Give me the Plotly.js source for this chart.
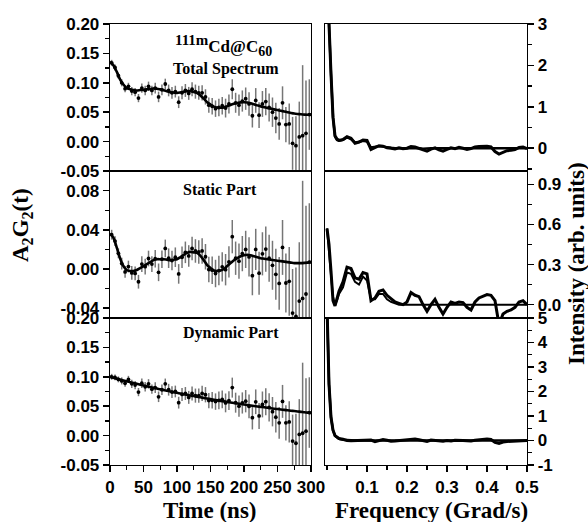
<!DOCTYPE html>
<html>
<head>
<meta charset="utf-8">
<script src="https://cdn.plot.ly/plotly-3.0.1.min.js"></script>
<style>html,body{margin:0;padding:0;background:#fff;}#chart{width:588px;height:522px;}</style>
</head>
<body>
<div id="chart"></div>
<script>
// ---------- time-domain data (ns) ----------
const timeData = [2.5,7.5,12.5,17.5,22.5,27.5,32.5,37.5,42.5,47.5,52.5,57.5,62.5,67.5,72.5,77.5,82.5,87.5,92.5,97.5,
  102.5,107.5,112.5,117.5,122.5,127.5,132.5,137.5,142.5,147.5,152.5,157.5,162.5,167.5,172.5,177.5,182.5,187.5,192.5,197.5,
  202.5,207.5,212.5,217.5,222.5,227.5,232.5,237.5,242.5,247.5,252.5,257.5,262.5,267.5,272.5,277.5,282.5,287.5,292.5,297.5];
const totalData = [0.134,0.126,0.112,0.100,0.090,0.094,0.086,0.084,0.074,0.091,0.087,0.094,0.087,0.091,0.076,0.088,0.098,0.087,0.083,0.085,
  0.067,0.083,0.087,0.082,0.089,0.085,0.083,0.083,0.076,0.062,0.060,0.056,0.058,0.061,0.057,0.064,0.089,0.066,0.062,0.069,
  0.073,0.064,0.044,0.070,0.045,0.064,0.068,0.058,0.050,0.040,0.030,0.066,0.029,0.030,-0.003,-0.007,0.008,0.010,0.014,0.046];
const staticData = [0.035,0.0285,0.016,0.0055,-0.003,0.0025,-0.004,-0.0045,-0.013,0.005,0.0024,0.0107,0.005,0.0105,-0.0034,0.010,0.021,0.011,0.0086,0.012,
  -0.005,0.012,0.017,0.0133,0.021,0.0184,0.0174,0.0184,0.0125,-0.0005,-0.0012,-0.0046,-0.0016,0.0022,-0.0007,0.0072,0.033,0.011,0.008,0.0157,
  0.020,0.0123,-0.0068,0.020,-0.0043,0.0155,0.0203,0.011,0.0038,-0.0054,-0.0147,0.022,-0.0143,-0.0126,-0.045,-0.0484,-0.0327,-0.030,-0.0255,0.0071];
const dynamicData = [0.100,0.099,0.0956,0.093,0.089,0.0956,0.088,0.086,0.074,0.089,0.083,0.088,0.079,0.0816,0.066,0.078,0.088,0.078,0.074,0.075,
  0.056,0.070,0.0716,0.065,0.0717,0.068,0.068,0.0717,0.0695,0.0595,0.060,0.0578,0.0598,0.0617,0.0556,0.0596,0.0816,0.056,0.050,0.0555,
  0.0585,0.0497,0.0305,0.0575,0.0334,0.053,0.0577,0.048,0.0407,0.0313,0.0218,0.0582,0.0218,0.0233,-0.0093,-0.013,0.002,0.004,0.0076,0.0392];
const errData = [0.005,0.005,0.005,0.006,0.006,0.006,0.007,0.007,0.007,0.008,0.008,0.008,0.008,0.009,0.009,0.009,0.009,0.010,0.010,0.010,
  0.010,0.011,0.011,0.011,0.012,0.012,0.012,0.013,0.013,0.013,0.014,0.014,0.015,0.015,0.016,0.016,0.017,0.017,0.018,0.018,
  0.019,0.020,0.020,0.021,0.022,0.022,0.023,0.024,0.025,0.026,0.027,0.028,0.030,0.035,0.045,0.050,0.060,0.120,0.090,0.060];

const timeFit = [0,5,10,15,20,25,30,35,40,45,50,55,60,65,70,75,80,85,90,95,100,105,110,115,120,125,130,135,140,145,150,
  155,160,165,170,175,180,185,190,195,200,205,210,215,220,225,230,235,240,245,250,255,260,265,270,275,280,285,290,295,300];
const totalFit = [0.136,0.130,0.119,0.106,0.097,0.091,0.089,0.0875,0.087,0.0877,0.0883,0.0889,0.0896,0.0903,0.090,0.0888,0.0875,0.0858,0.0841,0.0834,
  0.0827,0.0836,0.0849,0.0858,0.0857,0.0842,0.0826,0.0786,0.073,0.067,0.063,0.0595,0.0581,0.0576,0.0582,0.0603,0.0624,0.0645,0.0656,0.0667,
  0.0669,0.0666,0.0652,0.0634,0.0616,0.0599,0.0586,0.0573,0.0561,0.0548,0.0536,0.0524,0.0512,0.050,0.0488,0.0477,0.047,0.0464,0.0459,0.0456,0.0459];
const staticFit = [0.036,0.032,0.022,0.011,0.003,-0.001,-0.002,-0.002,-0.001,0.001,0.003,0.005,0.007,0.009,0.010,0.010,0.010,0.0095,0.009,0.0095,
  0.010,0.012,0.0145,0.0165,0.0175,0.017,0.0165,0.0135,0.009,0.004,0.001,-0.0015,-0.002,-0.0015,0.000,0.003,0.006,0.009,0.011,0.013,
  0.014,0.0145,0.014,0.013,0.012,0.011,0.0105,0.010,0.0095,0.009,0.0085,0.008,0.0075,0.007,0.0065,0.006,0.006,0.006,0.0062,0.0065,0.007];
const dynamicFit = [0.100,0.0984,0.0969,0.0953,0.0938,0.0923,0.0909,0.0895,0.0880,0.0867,0.0853,0.0839,0.0826,0.0813,0.0800,0.0788,0.0775,0.0763,0.0751,0.0739,
  0.0727,0.0716,0.0704,0.0693,0.0682,0.0672,0.0661,0.0651,0.0640,0.0630,0.0620,0.0610,0.0601,0.0591,0.0582,0.0573,0.0564,0.0555,0.0546,0.0537,
  0.0529,0.0521,0.0512,0.0504,0.0496,0.0489,0.0481,0.0473,0.0466,0.0458,0.0451,0.0444,0.0437,0.0430,0.0423,0.0417,0.0410,0.0404,0.0397,0.0391,0.0385];

// ---------- frequency-domain data (Grad/s) ----------
const freq = [0,0.005,0.01,0.015,0.02,0.025,0.03,0.04,0.05,0.06,0.07,0.08,0.09,0.10,
  0.11,0.12,0.13,0.14,0.15,0.16,0.17,0.18,0.19,0.20,0.21,0.22,0.23,0.24,0.25,0.26,0.27,0.28,0.29,0.30,
  0.31,0.32,0.33,0.34,0.35,0.36,0.37,0.38,0.39,0.40,0.41,0.42,0.43,0.44,0.45,0.46,0.47,0.48,0.49,0.50];
const totalSpec = [5.0,3.0,1.8,0.75,0.3,0.22,0.19,0.21,0.28,0.24,0.12,0.15,0.20,0.19,
  -0.03,0.02,0.06,0.05,0.01,0.0,-0.02,0.01,-0.01,0.0,0.04,0.03,0.0,-0.03,-0.07,-0.02,0.01,-0.04,-0.07,-0.03,
  0.01,-0.01,0.02,0.0,-0.03,-0.01,0.03,0.04,0.05,0.05,0.03,-0.08,-0.14,-0.09,-0.06,-0.05,-0.03,0.02,0.03,-0.01];
const totalSpecFit = [5.0,3.0,1.8,0.75,0.28,0.20,0.18,0.20,0.26,0.22,0.14,0.15,0.18,0.16,
  0.02,0.03,0.05,0.04,0.02,0.01,0.0,0.0,0.0,0.0,0.01,0.0,0.0,-0.01,0.0,0.0,0.0,0.0,0.0,0.0,
  0.0,0.0,0.0,0.0,0.0,0.0,0.0,0.0,0.0,0.0,0.0,0.0,0.0,0.0,0.0,0.0,0.0,0.0,0.0,0.0];
const staticSpec = [0.57,0.45,0.25,0.03,-0.01,0.05,0.10,0.17,0.28,0.27,0.20,0.19,0.24,0.23,
  0.03,0.05,0.10,0.11,0.07,0.045,0.02,0.01,0.0,0.02,0.09,0.07,0.06,0.0,-0.05,0.0,0.04,-0.02,-0.07,-0.02,
  0.02,0.01,0.02,0.015,-0.02,-0.04,0.02,0.05,0.06,0.075,0.07,0.03,-0.15,-0.07,-0.05,-0.04,-0.02,0.02,0.03,0.0];
const staticSpecFit = [0.57,0.42,0.22,0.06,0.0,0.03,0.08,0.13,0.24,0.23,0.17,0.15,0.21,0.18,
  0.04,0.04,0.08,0.08,0.04,0.02,0.01,0.0,0.0,0.0,0.005,0.0,0.0,0.0,0.0,0.0,0.0,0.0,0.0,0.0,
  0.0,0.0,0.0,0.0,0.0,0.0,0.0,0.0,0.0,0.0,0.0,0.0,0.0,0.0,0.0,0.0,0.0,0.0,0.0,0.0];
const dynamicSpec = [5.5,2.3,0.95,0.42,0.2,0.12,0.08,0.05,0.0,-0.01,0.0,0.01,-0.01,0.01,
  0.02,-0.05,0.0,0.04,0.01,-0.03,-0.02,0.0,0.01,0.03,0.05,0.06,0.03,0.0,-0.04,0.02,0.0,-0.04,-0.03,0.0,
  -0.02,0.01,0.02,0.0,-0.01,-0.02,0.01,0.03,0.05,0.06,0.04,-0.08,-0.12,-0.06,-0.04,-0.03,-0.02,0.0,0.02,0.0];
const dynamicSpecFit = [5.5,2.3,0.95,0.42,0.19,0.11,0.07,0.03,0.01,0.0,0.0,0.0,0.0,0.0,
  0.0,0.0,0.0,0.0,0.0,0.0,0.0,0.0,0.0,0.0,0.0,0.0,0.0,0.0,0.0,0.0,0.0,0.0,0.0,0.0,
  0.0,0.0,0.0,0.0,0.0,0.0,0.0,0.0,0.0,0.0,0.0,0.0,0.0,0.0,0.0,0.0,0.0,0.0,0.0,0.0];

// ---------- tick labels ----------
const timeTicks = [0,50,100,150,200,250,300];
const timeTickText = ['0','50','100','150','200','250','300'];
const freqTicks = [0.1,0.2,0.3,0.4,0.5];
const freqTickText = ['0.1','0.2','0.3','0.4','0.5'];
const ampTicks = [0.20,0.15,0.10,0.05,0.00,-0.05];
const ampTickText = ['0.20','0.15','0.10','0.05','0.00','-0.05'];
const staticTicks = [0.08,0.04,0.00,-0.04];
const staticTickText = ['0.08','0.04','0.00','-0.04'];
const specTopTicks = [3,2,1,0];
const specTopText = ['3','2','1','0'];
const specMidTicks = [0.9,0.6,0.3,0.0];
const specMidText = ['0.9','0.6','0.3','0.0'];
const specBotTicks = [5,4,3,2,1,0,-1];
const specBotText = ['5','4','3','2','1','0','-1'];

// ---------- layout helpers ----------
const W = 588, H = 522;
const xL = [110/W, 311/W], xR = [325/W, 527/W];
const yTop = [1-171/H, 1-24/H], yMid = [1-318/H, 1-171/H], yBot = [1-465/H, 1-318/H];
const tickFont = {family:'Liberation Sans, Arial, sans-serif', size:17, color:'#000', weight:700};
function ax(extra){
  return Object.assign({showline:true, linecolor:'#000', linewidth:1.3, mirror:true, zeroline:false,
    showgrid:false, ticks:'outside', tickcolor:'#000', ticklen:6, tickwidth:1.5, tickfont:tickFont,
    tickmode:'array', fixedrange:true}, extra);
}
function minor(d, t0){ return {tickmode:'linear', tick0:t0, dtick:d, ticks:'outside', ticklen:3.5, tickwidth:1.3, tickcolor:'#000', showgrid:false}; }

const barColor = '#767676';
function dataTrace(y, xa, ya){
  return {x:timeData, y:y, xaxis:xa, yaxis:ya, type:'scatter', mode:'markers',
    marker:{color:'#000', size:3.8},
    error_y:{type:'data', array:errData, visible:true, color:barColor, thickness:1.5, width:0},
    hoverinfo:'skip', showlegend:false};
}
function fitTrace(y, xa, ya){
  return {x:timeFit, y:y, xaxis:xa, yaxis:ya, type:'scatter', mode:'lines',
    line:{color:'#000', width:2.6, shape:'spline', smoothing:0.8}, hoverinfo:'skip', showlegend:false};
}
function specTrace(y, xa, ya, w){
  return {x:freq, y:y, xaxis:xa, yaxis:ya, type:'scatter', mode:'lines',
    line:{color:'#000', width:w}, hoverinfo:'skip', showlegend:false};
}

const traces = [
  dataTrace(totalData,'x','y'), fitTrace(totalFit,'x','y'),
  dataTrace(staticData,'x2','y2'), fitTrace(staticFit,'x2','y2'),
  dataTrace(dynamicData,'x3','y3'), fitTrace(dynamicFit,'x3','y3'),
  specTrace(totalSpecFit,'x4','y4',2.4), specTrace(totalSpec,'x4','y4',3),
  specTrace(staticSpecFit,'x5','y5',2), specTrace(staticSpec,'x5','y5',3),
  specTrace(dynamicSpecFit,'x6','y6',2.4), specTrace(dynamicSpec,'x6','y6',3)
];

const serif = {family:'Liberation Serif, Times New Roman, serif', color:'#000', weight:700};
function ann(text, px, py, size, angle){
  return {text:text, x:px/W, y:1-py/H, xref:'paper', yref:'paper', xanchor:'center', yanchor:'middle',
    showarrow:false, textangle:angle||0, font:Object.assign({size:size}, serif)};
}

const layout = {
  width:W, height:H, margin:{l:0,r:0,t:0,b:0}, paper_bgcolor:'#fff', plot_bgcolor:'#fff', showlegend:false,
  xaxis: ax({domain:xL, anchor:'y', range:[0,300], ticks:'', showticklabels:false}),
  xaxis2: ax({domain:xL, anchor:'y2', range:[0,300], ticks:'', showticklabels:false}),
  xaxis3: ax({domain:xL, anchor:'y3', range:[0,300], tickvals:timeTicks, ticktext:timeTickText, minor:minor(25,0)}),
  xaxis4: ax({domain:xR, anchor:'y4', range:[-0.005,0.5], ticks:'', showticklabels:false}),
  xaxis5: ax({domain:xR, anchor:'y5', range:[-0.005,0.5], ticks:'', showticklabels:false}),
  xaxis6: ax({domain:xR, anchor:'y6', range:[-0.005,0.5], tickvals:freqTicks, ticktext:freqTickText, minor:minor(0.05,0)}),
  yaxis: ax({domain:yTop, anchor:'x', range:[-0.05,0.20], tickvals:ampTicks, ticktext:ampTickText, minor:minor(0.025,0)}),
  yaxis2: ax({domain:yMid, anchor:'x2', range:[-0.05,0.10], tickvals:staticTicks, ticktext:staticTickText, minor:minor(0.02,0)}),
  yaxis3: ax({domain:yBot, anchor:'x3', range:[-0.05,0.20], tickvals:ampTicks, ticktext:ampTickText, minor:minor(0.025,0)}),
  yaxis4: ax({domain:yTop, anchor:'x4', side:'right', range:[-0.55,3], tickvals:specTopTicks, ticktext:specTopText, minor:minor(0.5,0)}),
  yaxis5: ax({domain:yMid, anchor:'x5', side:'right', range:[-0.1,1.0], tickvals:specMidTicks, ticktext:specMidText, minor:minor(0.15,0)}),
  yaxis6: ax({domain:yBot, anchor:'x6', side:'right', range:[-1,5], tickvals:specBotTicks, ticktext:specBotText, minor:minor(0.5,0)}),
  annotations: [
    ann('<sup><span style="font-size:15px">111m</span></sup>Cd@C<sub><span style="font-size:14px">60</span></sub>', 223, 45, 17),
    ann('Total Spectrum', 226, 69, 16),
    ann('Static Part', 220, 190, 16),
    ann('Dynamic Part', 231, 333, 16),
    ann('Time (ns)', 210, 510, 23),
    ann('Frequency (Grad/s)', 431, 510, 23),
    ann('A<sub>2</sub>G<sub>2</sub>(t)', 22, 225, 23, -90),
    ann('Intensity (arb. units)', 576, 264, 23, -90)
  ]
};

Plotly.newPlot('chart', traces, layout, {staticPlot:true, displayModeBar:false});
</script>
</body>
</html>
